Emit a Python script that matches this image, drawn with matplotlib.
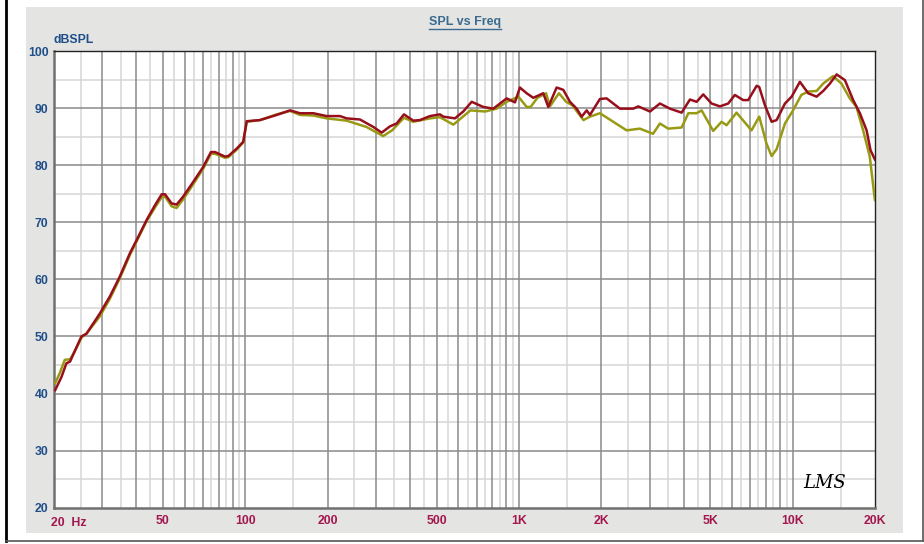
import numpy as np
import matplotlib
matplotlib.use('Agg')
import matplotlib.pyplot as plt
from matplotlib.patches import Rectangle
from matplotlib.lines import Line2D

red_freq = [20.2, 21.3, 22.2, 22.9, 23.9, 25.2, 26.3, 29.4, 32.0, 34.8, 37.9, 40.1, 43.6, 46.8,
            49.5, 50.9, 53.8, 56.1, 59.3, 64.6, 70.2, 74.9, 77.5, 84.3, 86.7, 93.0, 98.3, 101.2,
            113.2, 130.3, 145.7, 158.4, 177.2, 198.3, 221.8, 234.6, 262.5, 293.6, 315.0, 337.8,
            357.3, 380.0, 410.9, 434.8, 473.0, 514.4, 528.9, 583.7, 625.8, 671.8, 740.6, 805.9,
            902.0, 966.8, 1008, 1067, 1128, 1227, 1280, 1373, 1452, 1536, 1625, 1695, 1768, 1817,
            1977, 2091, 2339, 2616, 2729, 3011, 3274, 3563, 3931, 4215, 4459, 4714, 5058, 5424,
            5815, 6152, 6597, 6881, 7388, 7551, 7921, 8380, 8741, 9374, 9918, 10631, 11400,
            12237, 12935, 13686, 14480, 15524, 16646, 17612, 18634, 19266, 19980]
red_db = [40.6, 42.9, 45.3, 45.6, 47.6, 50.0, 50.5, 54.0, 57.0, 60.5, 64.6, 66.9, 70.4, 73.0,
          74.9, 74.9, 73.3, 73.1, 74.5, 77.1, 79.7, 82.3, 82.3, 81.5, 81.6, 82.9, 84.1, 87.7,
          87.9, 88.8, 89.6, 89.1, 89.1, 88.6, 88.6, 88.2, 88.0, 86.7, 85.7, 86.8,
          87.3, 88.9, 87.8, 87.9, 88.6, 88.9, 88.5, 88.2, 89.4, 91.1, 90.2, 89.9,
          91.7, 91.0, 93.6, 92.6, 91.8, 92.6, 90.2, 93.6, 93.2, 91.1, 89.9, 88.5, 89.6, 88.8,
          91.6, 91.7, 89.9, 89.9, 90.3, 89.4, 90.8, 89.9, 89.2, 91.5, 91.1, 92.4, 90.8, 90.3,
          90.8, 92.3, 91.4, 91.4, 93.9, 93.7, 90.5, 87.6, 87.9, 90.8, 92.0, 94.6, 92.6,
          92.0, 93.0, 94.3, 95.9, 94.9, 91.4, 89.1, 86.1, 82.6, 81.0]

olive_freq = [20.2, 21.0, 21.9, 22.9, 23.9, 25.2, 26.3, 29.4, 32.0, 34.8, 37.9, 43.6, 46.8, 49.5,
              50.9, 53.8, 56.1, 59.3, 64.6, 70.2, 74.9, 77.5, 84.3, 86.7, 93.0, 98.3, 101.2,
              113.2, 130.3, 145.7, 158.4, 177.2, 198.3, 234.6, 277.0, 319.0, 344.0, 380.0,
              410.9, 473.0, 514.4, 576, 665, 752, 828, 902, 996, 1067, 1103, 1168, 1256, 1298,
              1400, 1488, 1566, 1721, 1817, 1977, 2211, 2475, 2765, 3091, 3274, 3510, 3931,
              4159, 4459, 4650, 5128, 5499, 5736, 6239, 7076, 7551, 8025, 8380, 8741, 9374,
              10038, 10760, 11400, 12237, 12935, 14052, 15080, 16180, 17110, 18100, 19140, 19980]
olive_db = [41.8, 43.6, 45.9, 46.0, 47.5, 49.8, 50.5, 53.5, 56.6, 60.2, 64.3, 70.2, 72.6, 74.4,
            74.5, 72.8, 72.5, 74.0, 76.7, 79.4, 82.0, 82.0, 81.3, 81.4, 82.7, 84.0, 87.6,
            87.9, 88.9, 89.5, 88.8, 88.7, 88.2, 87.8, 86.7, 85.1, 86.1, 88.3,
            87.6, 88.2, 88.4, 87.1, 89.6, 89.4, 89.9, 91.1, 92.0, 90.2, 90.2, 91.8, 92.6, 90.3,
            92.6, 91.1, 90.5, 87.9, 88.5, 89.1, 87.6, 86.1, 86.4, 85.5, 87.3, 86.4, 86.6,
            89.1, 89.1, 89.6, 86.0, 87.6, 87.0, 89.2, 86.1, 88.5, 83.8, 81.6, 82.8, 87.3,
            89.6, 92.3, 92.9, 93.0, 94.3, 95.6, 94.3, 91.7, 90.2, 86.1, 81.5, 73.9]

x_ticks = [50, 100, 200, 500, 1000, 2000, 5000, 10000, 20000]
x_labels = ['50', '100', '200', '500', '1K', '2K', '5K', '10K', '20K']
y_ticks = [20, 30, 40, 50, 60, 70, 80, 90, 100]

W, H = 924, 544
fig = plt.figure(figsize=(W / 100, H / 100), dpi=100)
fig.patch.set_facecolor('white')

# gray panel and outer frame
fig.add_artist(Rectangle((26 / W, 1 - 533 / H), (903 - 26) / W, (533 - 7) / H,
                         transform=fig.transFigure, facecolor='#E4E5E3', edgecolor='none', zorder=0))
fig.add_artist(Line2D([6 / W, 6 / W], [1 - 541 / H, 1], transform=fig.transFigure, color='black', lw=2))
fig.add_artist(Line2D([6 / W, 923 / W], [1 - 541 / H, 1 - 541 / H], transform=fig.transFigure,
                      color='#555555', lw=1.2))
fig.add_artist(Line2D([922.5 / W, 922.5 / W], [1 - 541 / H, 1], transform=fig.transFigure,
                      color='#555555', lw=1.2))

ax = fig.add_axes([54 / W, 1 - 507.7 / H, 821 / W, 456.7 / H])
ax.set_facecolor('white')
ax.set_xscale('log')
ax.set_xlim(20, 20000)
ax.set_ylim(20, 100)

# log grid: darker at 1..9 x decade, lighter at the half steps
for dec in [10, 100, 1000, 10000]:
    for m in range(1, 10):
        f = m * dec
        if 20 < f < 20000:
            ax.axvline(f, color='#8A8A8A', lw=1.1, zorder=1)
        fh = (m + 0.5) * dec
        if 20 < fh < 20000:
            ax.axvline(fh, color='#D6D6D6', lw=1.1, zorder=0.9)
for v in range(25, 100, 10):
    ax.axhline(v, color='#D6D6D6', lw=1.1, zorder=0.9)
for v in range(30, 100, 10):
    ax.axhline(v, color='#8A8A8A', lw=1.1, zorder=1)

ax.plot(olive_freq, olive_db, color='#999A14', lw=1.8, zorder=3, solid_joinstyle='round')
ax.plot(red_freq, red_db, color='#980F1C', lw=1.8, zorder=4, solid_joinstyle='round')

for s in ['top', 'right']:
    ax.spines[s].set_color('#222222')
    ax.spines[s].set_linewidth(1.0)
for s in ['left', 'bottom']:
    ax.spines[s].set_color('#707070')
    ax.spines[s].set_linewidth(1.8)

fam = ['Liberation Sans Narrow', 'Liberation Sans', 'DejaVu Sans']
ax.set_xticks(x_ticks)
ax.set_xticklabels(x_labels)
ax.set_xticks([], minor=True)
ax.set_yticks(y_ticks)
ax.tick_params(length=0)
ax.tick_params(axis='x', pad=5, labelcolor='#A3164F', labelsize=8.8)
ax.tick_params(axis='y', pad=4, labelcolor='#1F4E8A', labelsize=8.8)
for lab in ax.get_xticklabels() + ax.get_yticklabels():
    lab.set_fontweight('bold')
    lab.set_family(fam)

ax.text(-0.004, -0.021, '20  Hz', transform=ax.transAxes, ha='left', va='top',
        color='#A3164F', fontsize=8.8, fontweight='bold', family=fam)
ax.text(0.0, 1.01, 'dBSPL', transform=ax.transAxes, ha='left', va='bottom',
        color='#1F4E8A', fontsize=8.8, fontweight='bold', family=fam)

title = fig.text(465 / W, 1 - 22 / H, 'SPL vs Freq', ha='center', va='center',
                 color='#3A6A8E', fontsize=9, fontweight='bold', family=fam)
fig.canvas.draw()
bb = title.get_window_extent()
fig.add_artist(Line2D([bb.x0 / W, bb.x1 / W], [(bb.y0 - 1) / H, (bb.y0 - 1) / H],
                      transform=fig.transFigure, color='#3A6A8E', lw=1))

ax.text(0.965, 0.035, 'LMS', transform=ax.transAxes, ha='right', va='bottom',
        fontsize=13, fontstyle='italic', color='black', family=['DejaVu Serif'])

fig.savefig('out.png', dpi=100)
